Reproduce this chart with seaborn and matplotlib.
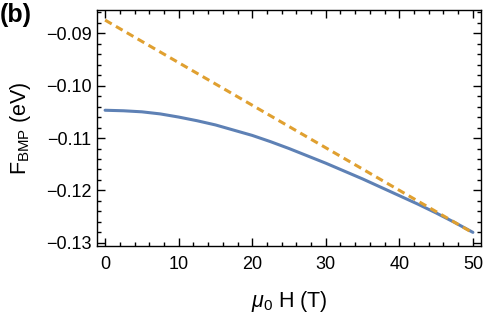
import numpy as np
import pandas as pd
import matplotlib
matplotlib.use("Agg")
import matplotlib.pyplot as plt
import seaborn as sns
from matplotlib.ticker import MultipleLocator

# --------------------------------------------------
# DATA
# --------------------------------------------------
field = [0, 2.5, 5, 7.5, 10, 12.5, 15, 17.5, 20, 22.5, 25,
         27.5, 30, 32.5, 35, 37.5, 40, 42.5, 45, 47.5, 50]
f_bmp = [-0.1047, -0.1048, -0.1050, -0.1054, -0.1060, -0.1067, -0.1075,
         -0.1085, -0.1095, -0.1107, -0.1120, -0.1134, -0.1148, -0.1163,
         -0.1178, -0.1194, -0.1210, -0.1226, -0.1243, -0.1261, -0.1280]
field_lin = [0, 50]
f_lin = [-0.0875, -0.1281]

sns.set_style("ticks")
plt.rcParams["font.family"] = ["Liberation Sans", "DejaVu Sans"]
plt.rcParams["mathtext.fontset"] = "custom"
plt.rcParams["mathtext.rm"] = "Liberation Sans"
plt.rcParams["mathtext.it"] = "Liberation Sans:italic"
plt.rcParams["text.color"] = "black"
plt.rcParams["axes.labelcolor"] = "black"
plt.rcParams["xtick.color"] = "black"
plt.rcParams["ytick.color"] = "black"

fig = plt.figure(figsize=(5, 3.17), dpi=100)
ax = fig.add_axes([0.194, 0.224, 0.768, 0.744])

sns.lineplot(x=field, y=f_bmp, ax=ax, color="#5E81B5", lw=2.2)
sns.lineplot(x=field_lin, y=f_lin, ax=ax, color="#E0A030", lw=2.2,
             linestyle=(0, (2.5, 1.6)))

ax.set_xlim(-1.1, 51.1)
ax.set_ylim(-0.1306, -0.0856)
ax.xaxis.set_major_locator(MultipleLocator(10))
ax.xaxis.set_minor_locator(MultipleLocator(2))
ax.yaxis.set_major_locator(MultipleLocator(0.01))
ax.yaxis.set_minor_locator(MultipleLocator(0.002))
ax.yaxis.set_major_formatter(plt.FuncFormatter(lambda v, p: f"{v:.2f}".replace("-", "\u2212")))

for s in ax.spines.values():
    s.set_linewidth(1.0)
    s.set_color("black")
ax.tick_params(which="both", direction="in", top=True, right=True,
               width=1.0, labelsize=13)
ax.tick_params(axis="x", pad=7)
ax.tick_params(axis="y", pad=4)
ax.tick_params(which="major", length=6)
ax.tick_params(which="minor", length=3)

ax.set_xlabel(r"$\mu_0$ H (T)", fontsize=15.5, labelpad=12)
ax.set_ylabel(r"F$_{\mathrm{BMP}}$ (eV)", fontsize=15.5, labelpad=9)
fig.text(0.0, 0.99, "(b)", fontsize=18, fontweight="bold", va="top", ha="left")

fig.savefig("out.png", dpi=100)
